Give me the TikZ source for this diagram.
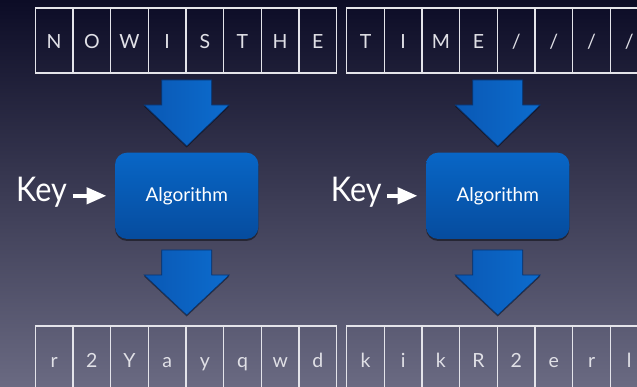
\documentclass[tikz,border=0pt]{standalone}
\usepackage{fontspec}
\setmainfont{Lato}
\usetikzlibrary{shadows,arrows.meta}

\definecolor{bgtop}{RGB}{12,12,38}
\definecolor{bgmid}{RGB}{44,42,72}
\definecolor{bgbot}{RGB}{106,106,130}
\definecolor{cellline}{RGB}{228,228,234}
\definecolor{celltext}{RGB}{224,224,230}
\definecolor{blueL}{RGB}{10,88,180}
\definecolor{blueR}{RGB}{12,108,206}
\definecolor{bluedk}{RGB}{8,50,110}
\definecolor{boxtop}{RGB}{8,102,198}
\definecolor{boxbot}{RGB}{6,76,158}

\begin{document}
\begin{tikzpicture}[x=1pt,y=-1pt,
  cell/.style={draw=cellline, line width=1.3pt, minimum width=37.67pt,
    minimum height=65pt, inner sep=0pt, outer sep=0pt, text=celltext,
    font=\fontsize{19.5}{20}\selectfont, text height=22pt, text depth=5pt},
  algbox/.style={rounded corners=12pt, minimum width=143.3pt,
    minimum height=86.3pt, top color=boxtop, bottom color=boxbot,
    text=white, font=\fontsize{19}{20}\selectfont,
    drop shadow={shadow xshift=0pt, shadow yshift=-2pt, opacity=0.45, fill=black}},
  keytext/.style={text=white, inner sep=0pt, xscale=0.9,
    font=\fontsize{34}{35}\selectfont},
  keyarrow/.style={draw=white, line width=4.4pt,
    -{Triangle[length=20pt,width=16pt]}, shorten <=5.7pt, shorten >=8.3pt},
  pics/bigdown/.style={code={
    \shade[left color=blueL, right color=blueR, draw=bluedk, line width=0.6pt,
      drop shadow={shadow xshift=0pt, shadow yshift=-1.5pt, opacity=0.45, fill=black}]
      (-25,0) -- (25,0) -- (25,25) -- (42.5,25) -- (0,#1)
      -- (-42.5,25) -- (-25,25) -- cycle;
  }}
]
\useasboundingbox (0,0) rectangle (637,387);
\clip (0,0) rectangle (637,387);

% background gradient
\shade[top color=bgtop, middle color=bgmid, bottom color=bgbot]
  (0,0) rectangle (637,387);

% plaintext blocks
\foreach \c [count=\i] in {N,O,W,I,S,T,H,E}
  \node[cell] (pA\i) at ({35.3+37.67*(\i-0.5)},40.5) {\c};
\foreach \c [count=\i] in {T,I,M,E,/,/,/,/}
  \node[cell] (pB\i) at ({346.7+37.67*(\i-0.5)},40.5) {\c};

% ciphertext blocks
\foreach \c [count=\i] in {r,2,Y,a,y,q,w,d}
  \node[cell] (cA\i) at ({35.3+37.67*(\i-0.5)},358.5) {\c};
\foreach \c [count=\i] in {k,i,k,R,2,e,r,l}
  \node[cell] (cB\i) at ({346.7+37.67*(\i-0.5)},358.5) {\c};

% flow arrows
\pic (inA)  at (186.7,80)  {bigdown=66};
\pic (outA) at (186.7,250) {bigdown=65};
\pic (inB)  at (497.7,80)  {bigdown=66};
\pic (outB) at (497.7,250) {bigdown=65};

% cipher boxes
\node[algbox] (algA) at (186.7,195.8) {Algorithm};
\node[algbox] (algB) at (497.7,195.8) {Algorithm};

% keys
\node[keytext, anchor=base east] (keyA) at (67,201.7) {Key};
\node[keytext, anchor=base east] (keyB) at (381.7,201.7) {Key};
\draw[keyarrow] (keyA.east |- algA.west) -- (algA.west);
\draw[keyarrow] (keyB.east |- algB.west) -- (algB.west);
\end{tikzpicture}
\end{document}
